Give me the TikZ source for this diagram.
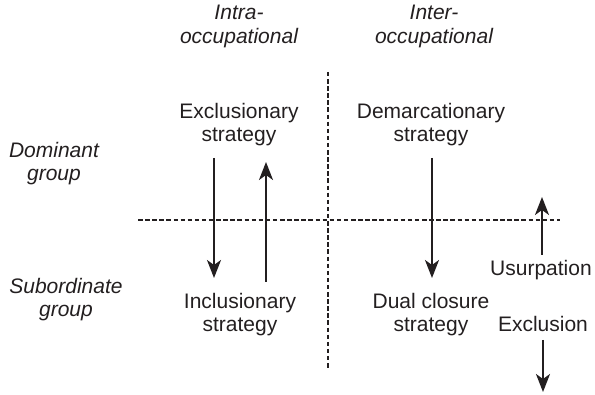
\documentclass[tikz,border=0pt]{standalone}
\usepackage{fontspec}
\setmainfont{Liberation Sans}
\usetikzlibrary{arrows.meta}
\definecolor{ink}{RGB}{35,31,32}
\begin{document}
\begin{tikzpicture}[x=1pt,y=-1pt,
  lbl/.style={inner sep=0pt, anchor=base, align=center, text=ink,
    font=\fontsize{21}{23.5}\selectfont},
  head/.style={lbl, font=\fontsize{21}{23.5}\selectfont\itshape},
  divider/.style={draw=ink, line width=1.5pt, dash pattern=on 4.5pt off 2.6pt},
  move/.style={draw=ink, line width=2pt,
    -{Stealth[length=18pt, width=14pt, inset=5pt]}}]
\useasboundingbox (0,0) rectangle (595,395);

% column and row headings (anchored at the baseline of the last line)
\node[head] (intra) at (239,43.5) {Intra-\\occupational};
\node[head] (inter) at (434,43.5) {Inter-\\occupational};
\node[head] (dom)   at (54,181) {Dominant\\group};
\node[head] (sub)   at (66,317) {Subordinate\\group};

% the four strategies
\node[lbl] (excl) at (239,142) {Exclusionary\\strategy};
\node[lbl] (dem)  at (431,142) {Demarcationary\\strategy};
\node[lbl] (incl) at (240,332) {Inclusionary\\strategy};
\node[lbl] (dual) at (431,332) {Dual closure\\strategy};
\node[lbl] (usurp) at (541,276) {Usurpation};
\node[lbl] (exclusion) at (543,332) {Exclusion};

% dividing lines
\coordinate (hl) at (138,220);
\coordinate (hr) at (560,220);
\coordinate (vt) at (328,72);
\coordinate (vb) at (328,368);
\draw[divider] (hl) -- (hr);
\draw[divider] (vt) -- (vb);

% movement arrows
\coordinate (a1s) at (214,158);
\coordinate (a1e) at (214,278);
\coordinate (a2s) at (266,282);
\coordinate (a2e) at (266,162);
\coordinate (a3s) at (432,158);
\coordinate (a3e) at (432,278);
\coordinate (a4s) at (542,255);
\coordinate (a4e) at (542,197);
\coordinate (a5s) at (543,340);
\coordinate (a5e) at (543,392);
\draw[move] (a1s) -- (a1e);
\draw[move] (a2s) -- (a2e);
\draw[move] (a3s) -- (a3e);
\draw[move] (a4s) -- (a4e);
\draw[move] (a5s) -- (a5e);
\end{tikzpicture}
\end{document}
